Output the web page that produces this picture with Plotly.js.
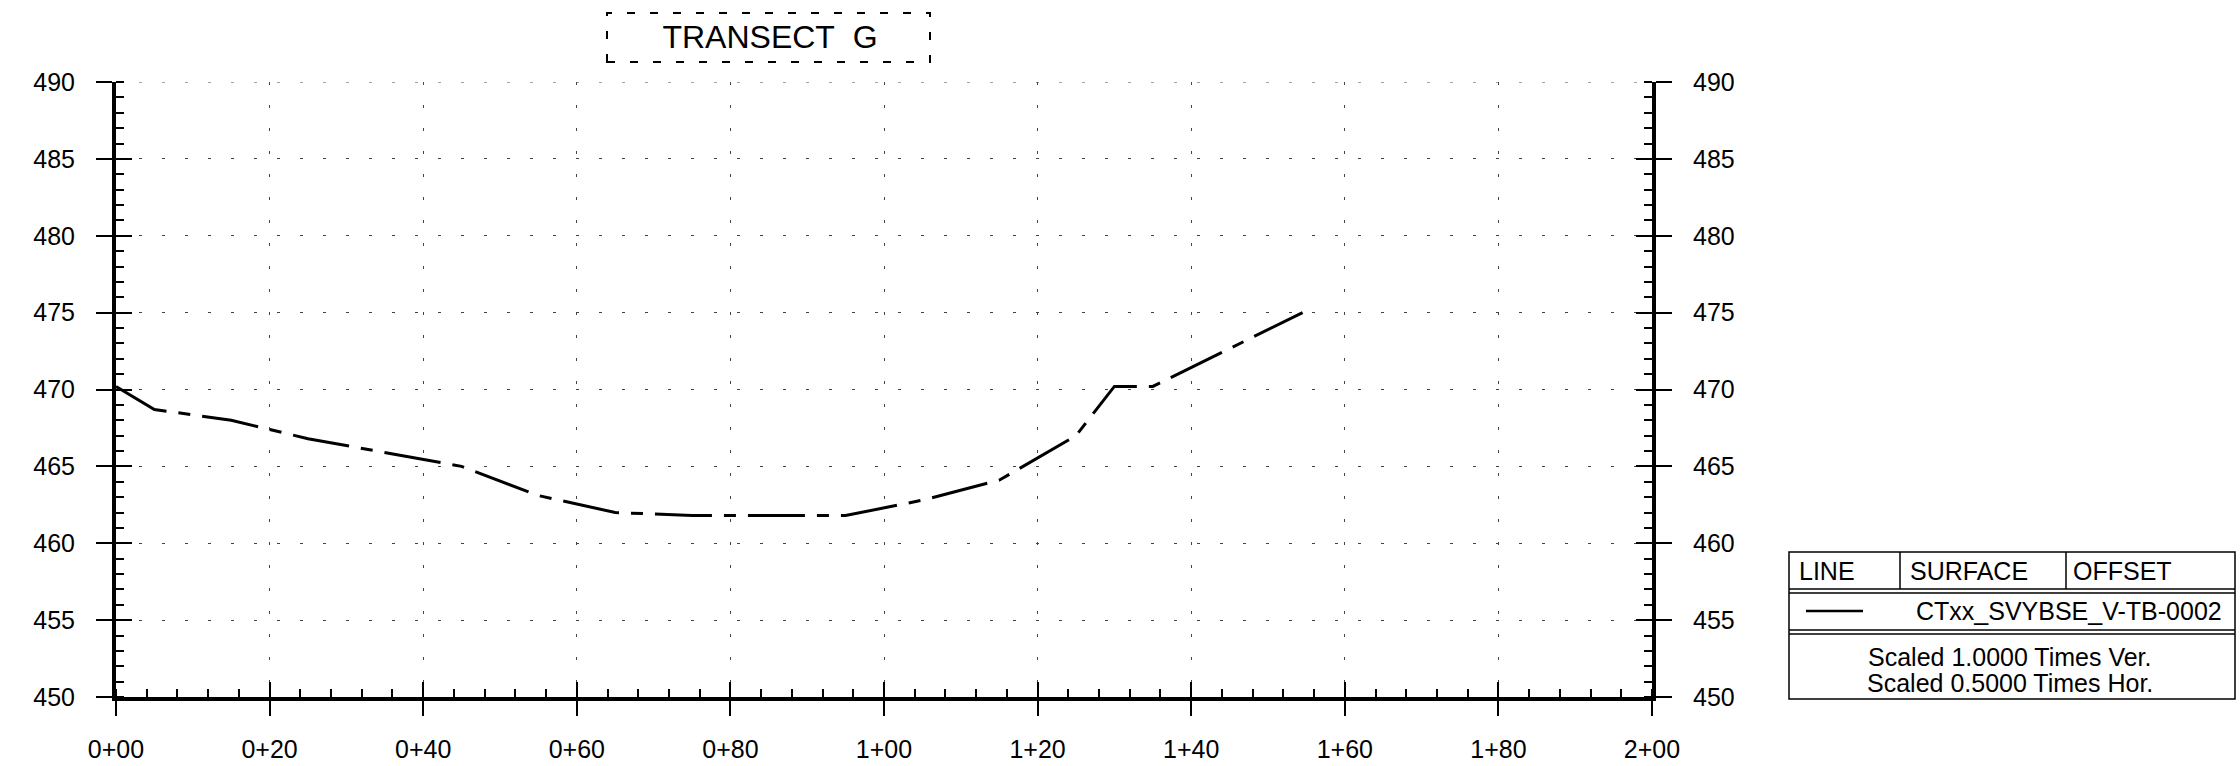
<!DOCTYPE html>
<html>
<head>
<meta charset="utf-8">
<script src="https://cdn.plot.ly/plotly-3.0.1.min.js"></script>
<style>html,body{margin:0;padding:0;background:#fff;}#chart{width:2240px;height:766px;}</style>
</head>
<body>
<div id="chart"></div>
<script>
// ---- data ----
var stations = [0, 5, 15, 25, 45, 55, 65, 75, 95, 105, 115, 125, 130, 135, 154.5];
var elevations = [470.2, 468.7, 468.0, 466.8, 465.0, 463.1, 462.0, 461.8, 461.8, 462.8, 464.1, 467.0, 470.2, 470.2, 475.0];
var stationTicks = [0, 20, 40, 60, 80, 100, 120, 140, 160, 180, 200];
var stationLabels = ["0+00", "0+20", "0+40", "0+60", "0+80", "1+00", "1+20", "1+40", "1+60", "1+80", "2+00"];
var elevTicks = [450, 455, 460, 465, 470, 475, 480, 485, 490];
var elevLabels = ["450", "455", "460", "465", "470", "475", "480", "485", "490"];
var chartTitle = "TRANSECT\u00a0\u00a0G";
var legendHeaders = ["LINE", "SURFACE", "OFFSET"];
var surfaceName = "CTxx_SVYBSE_V-TB-0002";
var scaleNotes = ["Scaled 1.0000 Times Ver.", "Scaled 0.5000 Times Hor."];

// ---- layout geometry (pixels) ----
var L = 116, R = 1652, T = 82, B = 697, W = 2240, H = 766;
function px(x) { return (x - L) / (R - L); }
function py(y) { return (B - y) / (B - T); }
var FONT = "Liberation Sans, Arial, Helvetica, sans-serif";

var traces = [
  {x: stations, y: elevations, type: "scatter", mode: "lines",
   line: {color: "#000", width: 3, dash: "57px,12px,12px,12px"},
   hoverinfo: "skip", showlegend: false},
  {x: [], y: [], xaxis: "x2", yaxis: "y2", type: "scatter", mode: "lines", showlegend: false, hoverinfo: "skip"},
  {x: [], y: [], xaxis: "x", yaxis: "y3", type: "scatter", mode: "lines", showlegend: false, hoverinfo: "skip"},
  {x: [], y: [], xaxis: "x", yaxis: "y4", type: "scatter", mode: "lines", showlegend: false, hoverinfo: "skip"}
];

var tickFont = {family: FONT, size: 25, color: "#000"};
var xRange = [stationTicks[0], stationTicks[stationTicks.length - 1]];
var yRange = [elevTicks[0], elevTicks[elevTicks.length - 1]];

var layout = {
  width: W, height: H,
  margin: {l: L, r: W - R, t: T, b: H - B, pad: 0},
  paper_bgcolor: "#fff", plot_bgcolor: "#fff",
  showlegend: false,
  title: {text: chartTitle, font: {family: FONT, size: 32, color: "#000"},
          xref: "container", yref: "container", x: 770 / W, y: 1 - 37 / H,
          xanchor: "center", yanchor: "middle"},
  xaxis: {range: xRange, tickmode: "array", tickvals: stationTicks, ticktext: stationLabels,
          ticks: "outside", ticklen: 15, tickwidth: 2, tickcolor: "#000",
          showline: true, linewidth: 4, linecolor: "#000",
          showgrid: true, gridcolor: "#444", gridwidth: 1, griddash: "3px,20px",
          zeroline: false, tickfont: tickFont, ticklabelstandoff: 12,
          minor: {ticks: "inside", tick0: 0, dtick: 4, ticklen: 8, tickwidth: 2, tickcolor: "#000", showgrid: false},
          fixedrange: true},
  xaxis2: {overlaying: "x", anchor: "y", side: "bottom", range: xRange,
           tickmode: "array", tickvals: stationTicks, ticks: "inside", ticklen: 15, tickwidth: 2, tickcolor: "#000",
           showticklabels: false, showline: false, showgrid: false, zeroline: false, fixedrange: true},
  yaxis: {range: yRange, tickmode: "array", tickvals: elevTicks, ticktext: elevLabels,
          ticks: "outside", ticklen: 16, tickwidth: 2, tickcolor: "#000",
          showline: true, linewidth: 4, linecolor: "#000",
          showgrid: true, gridcolor: "#444", gridwidth: 1, griddash: "3px,20px",
          zeroline: false, tickfont: tickFont, ticklabelstandoff: 16,
          minor: {ticks: "inside", tick0: 450, dtick: 1, ticklen: 8, tickwidth: 2, tickcolor: "#000", showgrid: false},
          fixedrange: true},
  yaxis2: {overlaying: "y", anchor: "x", side: "left", range: yRange,
           tickmode: "array", tickvals: elevTicks, ticks: "inside", ticklen: 16, tickwidth: 2, tickcolor: "#000",
           showticklabels: false, showline: false, showgrid: false, zeroline: false, fixedrange: true},
  yaxis3: {overlaying: "y", anchor: "x", side: "right", range: yRange,
           tickmode: "array", tickvals: elevTicks, ticktext: elevLabels,
           ticks: "outside", ticklen: 16, tickwidth: 2, tickcolor: "#000",
           showline: true, linewidth: 4, linecolor: "#000",
           showgrid: false, zeroline: false, tickfont: tickFont, ticklabelstandoff: 16,
           minor: {ticks: "inside", tick0: 450, dtick: 1, ticklen: 8, tickwidth: 2, tickcolor: "#000", showgrid: false},
           fixedrange: true},
  yaxis4: {overlaying: "y", anchor: "x", side: "right", range: yRange,
           tickmode: "array", tickvals: elevTicks, ticks: "inside", ticklen: 16, tickwidth: 2, tickcolor: "#000",
           showticklabels: false, showline: false, showgrid: false, zeroline: false, fixedrange: true},
  shapes: [],
  annotations: []
};

// top gridline (at the upper end of the range, which Plotly clips)
layout.shapes.push({type: "line", xref: "x", yref: "y", layer: "below",
  x0: xRange[0], x1: xRange[1], y0: yRange[1], y1: yRange[1],
  line: {color: "#444", width: 1, dash: "3px,20px"}});

// title dashed box
layout.shapes.push({type: "rect", xref: "paper", yref: "paper",
  x0: px(607), x1: px(930), y0: py(62), y1: py(13),
  line: {color: "#000", width: 2, dash: "8px,15px"}, fillcolor: "rgba(0,0,0,0)"});

// legend table
var lb = {x0: 1789, x1: 2235, y0: 552, y1: 699};
function hline(y) { layout.shapes.push({type: "line", xref: "paper", yref: "paper", x0: px(lb.x0), x1: px(lb.x1), y0: py(y), y1: py(y), line: {color: "#000", width: 1.5}}); }
function vline(x, ya, yb) { layout.shapes.push({type: "line", xref: "paper", yref: "paper", x0: px(x), x1: px(x), y0: py(ya), y1: py(yb), line: {color: "#000", width: 1.5}}); }
layout.shapes.push({type: "rect", xref: "paper", yref: "paper", x0: px(lb.x0), x1: px(lb.x1), y0: py(lb.y1), y1: py(lb.y0), line: {color: "#000", width: 1.5}});
hline(589); hline(593); hline(630); hline(634);
vline(1900, 552, 589); vline(2066, 552, 589);
layout.shapes.push({type: "line", xref: "paper", yref: "paper", x0: px(1806), x1: px(1863), y0: py(611), y1: py(611), line: {color: "#000", width: 2.5}});

var headerX = [1797, 1908, 2071];
legendHeaders.forEach(function (t, i) {
  layout.annotations.push({text: t, xref: "paper", yref: "paper", x: px(headerX[i]), y: py(571),
    xanchor: "left", yanchor: "middle", showarrow: false, font: {family: FONT, size: 25, color: "#000"}});
});
layout.annotations.push({text: surfaceName, xref: "paper", yref: "paper", x: px(1914), y: py(611),
  xanchor: "left", yanchor: "middle", showarrow: false, font: {family: FONT, size: 25, color: "#000"}});
layout.annotations.push({text: scaleNotes[0], xref: "paper", yref: "paper", x: px(2010), y: py(657),
  xanchor: "center", yanchor: "middle", showarrow: false, font: {family: FONT, size: 25, color: "#000"}});
layout.annotations.push({text: scaleNotes[1], xref: "paper", yref: "paper", x: px(2010), y: py(683),
  xanchor: "center", yanchor: "middle", showarrow: false, font: {family: FONT, size: 25, color: "#000"}});

Plotly.newPlot("chart", traces, layout, {staticPlot: true, displayModeBar: false});
</script>
</body>
</html>
